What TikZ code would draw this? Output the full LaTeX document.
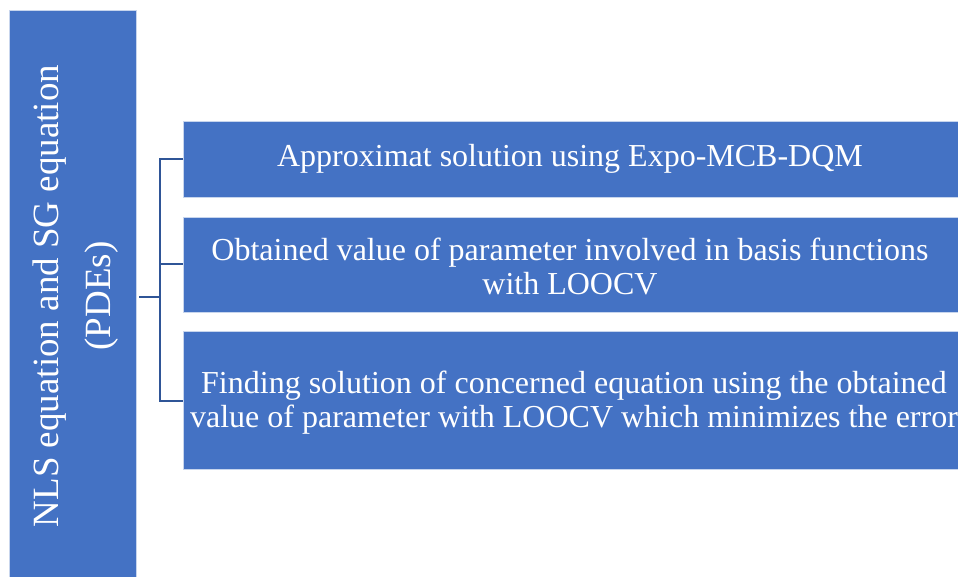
\documentclass[tikz,border=0pt]{standalone}
\usepackage{fontspec}
\setmainfont{Liberation Serif}
\definecolor{boxblue}{HTML}{4472C4}
\definecolor{linkblue}{HTML}{2F5597}
\begin{document}
\begin{tikzpicture}[x=1pt,y=-1pt,
  bluebox/.style={fill=boxblue,draw=white!70!boxblue,line width=0.8pt},
  boxtext/.style={text=white,font=\fontsize{32}{34}\selectfont,align=center},
  sidetext/.style={text=white,font=\fontsize{37}{52}\selectfont,align=center},
  linkline/.style={draw=linkblue,line width=2.2pt}]
\useasboundingbox (0,0) rectangle (958,577);
\clip (0,0) rectangle (958,577);
\fill[white] (0,0) rectangle (958,577);
% boxes
\path[bluebox] (9,10) rectangle (136,580);
\path[bluebox] (183,121) rectangle (962,197);
\path[bluebox] (183,217) rectangle (962,312);
\path[bluebox] (183,331) rectangle (962,469);
\node[sidetext,rotate=90] (main) at (76,296) {NLS equation and SG equation\\(PDEs)};
\node[boxtext] (b1) at (570,159) {Approximat solution using Expo-MCB-DQM};
\node[boxtext] (b2) at (570,266) {Obtained value of parameter involved in basis functions\\with LOOCV};
\node[boxtext] (b3) at (574,403) {Finding solution of concerned equation using the obtained\\value of parameter with LOOCV which minimizes the error};
% connectors
\coordinate (m) at (139,297);
\coordinate (j) at (160,297);
\coordinate (t1) at (183,159);
\coordinate (t2) at (183,264);
\coordinate (t3) at (183,401);
\draw[linkline] (m) -- (j);
\draw[linkline] (t1) -- (t1 -| j) -- (t3 -| j) -- (t3);
\draw[linkline] (t2 -| j) -- (t2);
\end{tikzpicture}
\end{document}
